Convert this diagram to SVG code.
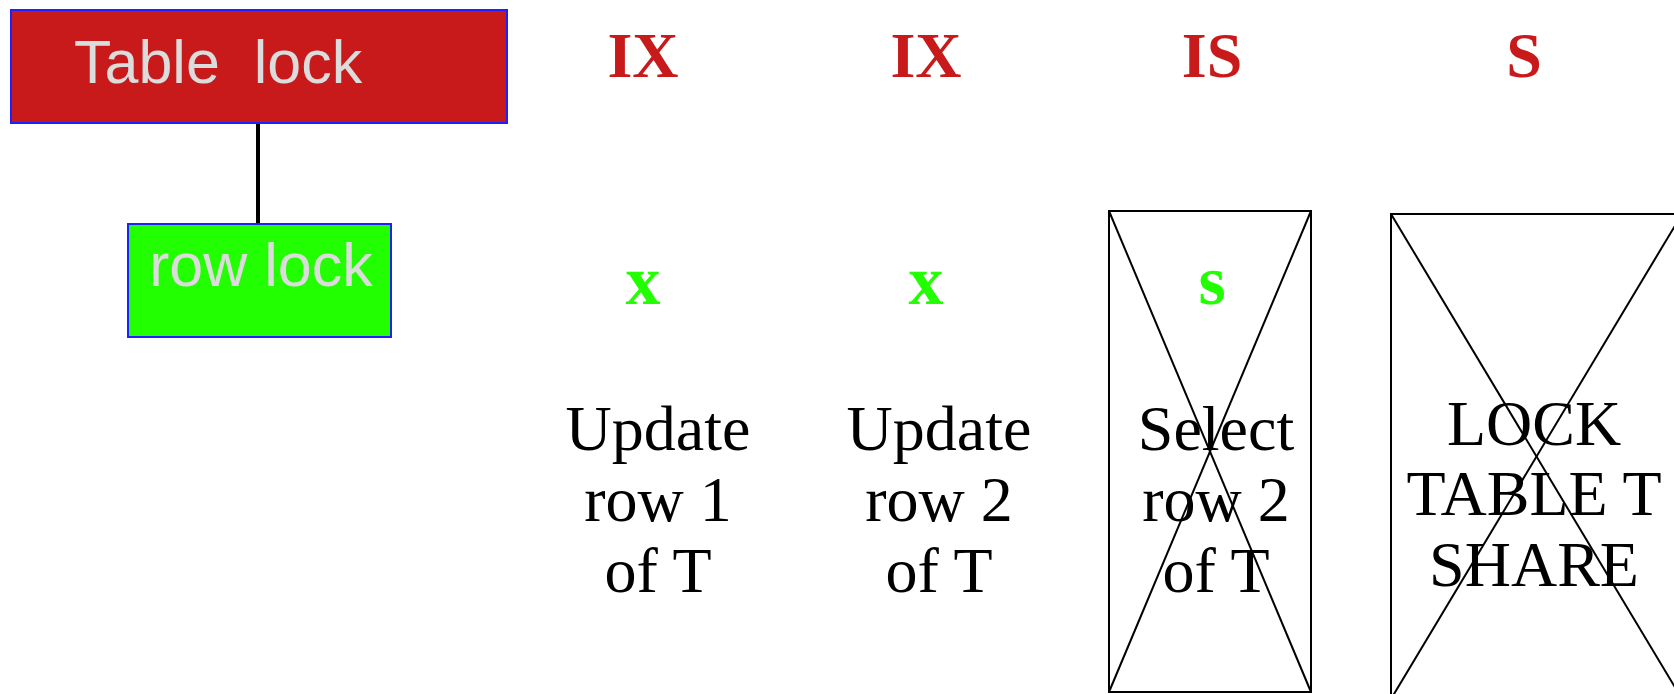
<svg xmlns="http://www.w3.org/2000/svg" width="1674" height="694" viewBox="0 0 1674 694">
<style>
.box{stroke:#1f1fff;stroke-width:2}
.lbl{font-family:"Liberation Sans",Arial,sans-serif;font-size:61px;fill:#dcdcdc;white-space:pre}
.mode{font-family:"Liberation Serif","Times New Roman",serif;font-weight:bold;font-size:64px;fill:#c81a1a;text-anchor:middle}
.sub{font-family:"Liberation Serif","Times New Roman",serif;font-weight:bold;font-size:70px;fill:#22ff00;text-anchor:middle}
.op{font-family:"Liberation Serif","Times New Roman",serif;font-size:64px;fill:#000;text-anchor:middle}
.cross{fill:none;stroke:#000;stroke-width:2}
</style>
<rect width="1674" height="694" fill="#fff"/>
<g id="connectors">
<line x1="258" y1="123" x2="258" y2="224" stroke="#000" stroke-width="4"/>
</g>
<g id="table-lock">
<rect class="box" x="11" y="10" width="496" height="113" fill="#c81a1a"/>
<text class="lbl" x="74" y="83">Table  lock</text>
</g>
<g id="row-lock">
<rect class="box" x="128" y="224" width="263" height="113" fill="#22ff00"/>
<text class="lbl" x="149" y="286">row lock</text>
</g>
<g id="col-update1">
<text class="mode" x="643" y="77">IX</text>
<text class="sub" x="643" y="304">x</text>
<text class="op" x="658" y="450">Update</text>
<text class="op" x="658" y="521">row 1</text>
<text class="op" x="658" y="592">of T</text>
</g>
<g id="col-update2">
<text class="mode" x="926" y="77">IX</text>
<text class="sub" x="926" y="304">x</text>
<text class="op" x="939" y="450">Update</text>
<text class="op" x="939" y="521">row 2</text>
<text class="op" x="939" y="592">of T</text>
</g>
<g id="col-select">
<text class="mode" x="1212" y="77">IS</text>
<rect class="cross" x="1109" y="211" width="202" height="481"/>
<line class="cross" x1="1109" y1="211" x2="1311" y2="692"/>
<line class="cross" x1="1311" y1="211" x2="1109" y2="692"/>
<text class="sub" x="1212" y="304">s</text>
<text class="op" x="1216" y="450">Select</text>
<text class="op" x="1216" y="521">row 2</text>
<text class="op" x="1216" y="592">of T</text>
</g>
<g id="col-locktable">
<text class="mode" x="1524" y="77">S</text>
<rect class="cross" x="1391" y="214" width="291" height="485"/>
<line class="cross" x1="1391" y1="214" x2="1682" y2="699"/>
<line class="cross" x1="1682" y1="214" x2="1391" y2="699"/>
<text class="op" x="1534" y="445">LOCK</text>
<text class="op" x="1534" y="515">TABLE T</text>
<text class="op" x="1534" y="586">SHARE</text>
</g>
</svg>
